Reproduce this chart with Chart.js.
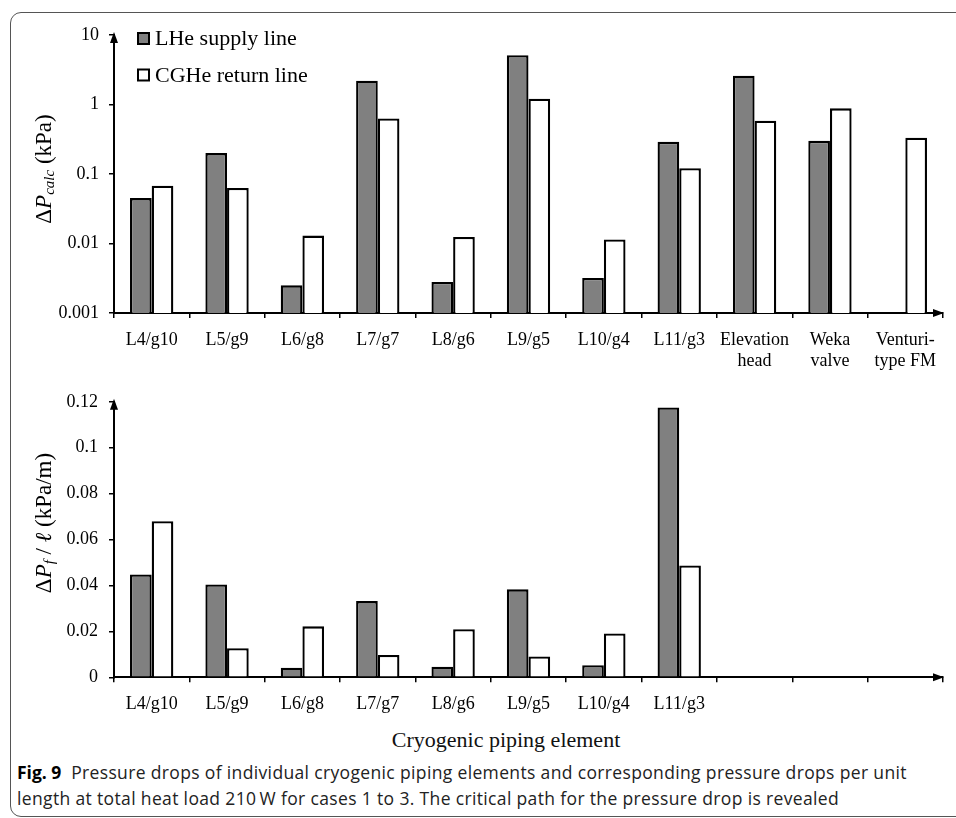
<!DOCTYPE html>
<html>
<head>
<meta charset="utf-8">
<script src="https://cdn.jsdelivr.net/npm/chart.js@4.4.1/dist/chart.umd.min.js"></script>
<style>
  html, body { margin: 0; padding: 0; background: #fff; }
  body { width: 956px; height: 818px; position: relative; overflow: hidden; }
  #frame {
    position: absolute; left: 10px; top: 12px; width: 1000px; height: 805px;
    border: 1.5px solid #555; border-radius: 11px; box-sizing: border-box;
  }
  canvas { position: absolute; left: 0; }
  #calcChart { top: 0; }
  #frictionChart { top: 380px; }
  #xTitle {
    position: absolute; left: 306px; width: 400px; top: 729px; text-align: center;
    font: 22px/22px "Liberation Serif", "Times New Roman", serif; color: #111;
  }
  #caption {
    position: absolute; left: 17px; top: 759px; width: 935px; white-space: nowrap;
    font: 17.5px/26px "Open Sans", Lato, sans-serif; letter-spacing: 0.35px; color: #222;
  }
  #caption b { color: #000; letter-spacing: 0; }
</style>
</head>
<body>
<div id="frame"></div>
<canvas id="calcChart" width="956" height="380"></canvas>
<canvas id="frictionChart" width="956" height="340"></canvas>
<div id="xTitle">Cryogenic piping element</div>
<div id="caption"><b>Fig. 9</b>&nbsp; Pressure drops of individual cryogenic piping elements and corresponding pressure drops per unit<br>length at total heat load 210&#8201;W for cases 1 to 3. The critical path for the pressure drop is revealed</div>

<script>
// Piping elements (upper panel) and their per-length counterparts (lower panel)
const categories = ['L4/g10', 'L5/g9', 'L6/g8', 'L7/g7', 'L8/g6', 'L9/g5', 'L10/g4', 'L11/g3',
  ['Elevation', 'head'], ['Weka', 'valve'], ['Venturi-', 'type FM']];
const frictionCategories = ['L4/g10', 'L5/g9', 'L6/g8', 'L7/g7', 'L8/g6', 'L9/g5', 'L10/g4', 'L11/g3', '', '', ''];

// Calculated pressure drop, kPa
const calcSupply = [0.045, 0.20, 0.0025, 2.2, 0.0028, 5.1, 0.0032, 0.29, 2.6, 0.30, null];
const calcReturn = [0.068, 0.063, 0.013, 0.63, 0.0124, 1.21, 0.0114, 0.121, 0.585, 0.88, 0.333];

// Frictional pressure drop per unit length, kPa/m
const frictionSupply = [0.0448, 0.0404, 0.0042, 0.0332, 0.0046, 0.0383, 0.0053, 0.1175, null, null, null];
const frictionReturn = [0.068, 0.0127, 0.0222, 0.0097, 0.0209, 0.0091, 0.0191, 0.0487, null, null, null];

// Axis ticks
const calcTicks = [0.001, 0.01, 0.1, 1, 10];
const frictionTicks = [0, 0.02, 0.04, 0.06, 0.08, 0.1, 0.12];

const seriesNames = ['LHe supply line', 'CGHe return line'];

const SERIF_NAME = 'Liberation Serif';
const SERIF = '"Liberation Serif", "Times New Roman", serif';
Chart.defaults.font.family = SERIF;
Chart.defaults.color = '#000';

const barStyle = (i) => ({
  backgroundColor: i === 0 ? '#808080' : '#ffffff',
  borderColor: '#000',
  borderWidth: 2.3,
  barPercentage: 1.0,
  categoryPercentage: 0.575
});

// Arrowheads at the ends of both axes
const axisArrows = {
  id: 'axisArrows',
  afterDraw(chart) {
    const ctx = chart.ctx, a = chart.chartArea;
    ctx.save();
    ctx.fillStyle = '#000';
    ctx.beginPath();
    ctx.moveTo(a.left, a.top - 3);
    ctx.lineTo(a.left - 4, a.top + 8);
    ctx.lineTo(a.left + 4, a.top + 8);
    ctx.closePath();
    ctx.fill();
    ctx.beginPath();
    ctx.moveTo(a.right + 1, a.bottom);
    ctx.lineTo(a.right - 10, a.bottom - 4);
    ctx.lineTo(a.right - 10, a.bottom + 4);
    ctx.closePath();
    ctx.fill();
    ctx.restore();
  }
};

// Square-swatch legend stacked in the upper-left of the plot
const boxLegend = {
  id: 'boxLegend',
  afterDraw(chart) {
    const ctx = chart.ctx, a = chart.chartArea;
    ctx.save();
    chart.data.datasets.forEach((ds, i) => {
      const base = a.top + 10 + i * 36.5;
      ctx.fillStyle = ds.backgroundColor;
      ctx.fillRect(a.left + 24, base - 12, 11, 11);
      ctx.strokeStyle = '#000';
      ctx.lineWidth = 2;
      ctx.strokeRect(a.left + 24, base - 12, 11, 11);
      ctx.fillStyle = '#000';
      ctx.font = 'normal 400 22px ' + SERIF;
      ctx.textBaseline = 'alphabetic';
      ctx.textAlign = 'left';
      ctx.fillText(ds.label, a.left + 41, base);
    });
    ctx.restore();
  }
};

// Rotated axis title with italic symbols and subscripts
function richTitle(cx, cy, parts) {
  return {
    id: 'richTitle',
    afterDraw(chart) {
      const ctx = chart.ctx;
      const fontOf = p => (p.italic ? 'italic ' : 'normal ') + '400 ' + p.size + 'px ' + SERIF;
      ctx.save();
      ctx.translate(cx, cy);
      ctx.rotate(-Math.PI / 2);
      ctx.fillStyle = '#000';
      ctx.textAlign = 'left';
      ctx.textBaseline = 'middle';
      const widths = parts.map(p => { ctx.font = fontOf(p); return ctx.measureText(p.text).width; });
      let x = -widths.reduce((s, w) => s + w, 0) / 2;
      parts.forEach((p, i) => {
        ctx.font = fontOf(p);
        ctx.fillText(p.text, x, p.dy || 0);
        x += widths[i];
      });
      ctx.restore();
    }
  };
}

function xScale(height, labelPad) {
  return {
    type: 'category',
    offset: true,
    grid: { offset: true, drawOnChartArea: false, drawTicks: true, tickLength: 5, color: '#000', lineWidth: 1.5 },
    border: { color: '#000', width: 2 },
    ticks: { font: { size: 18, lineHeight: 1.15 }, padding: labelPad, maxRotation: 0, autoSkip: false, color: '#000' },
    afterFit: s => { s.height = height; }
  };
}

function yGrid() {
  return { drawOnChartArea: false, drawTicks: true, tickLength: 5, color: '#000', lineWidth: 1.5 };
}

function drawCharts() {
  // Upper panel: calculated pressure drop on a log axis
  new Chart(document.getElementById('calcChart'), {
    type: 'bar',
    data: {
      labels: categories,
      datasets: [
        Object.assign({ label: seriesNames[0], data: calcSupply }, barStyle(0)),
        Object.assign({ label: seriesNames[1], data: calcReturn }, barStyle(1))
      ]
    },
    options: {
      responsive: false,
      animation: false,
      layout: { padding: { top: 35, right: 13, left: 0, bottom: 0 } },
      plugins: { legend: { display: false }, tooltip: { enabled: false } },
      scales: {
        x: xScale(67, 12),
        y: {
          type: 'logarithmic',
          min: calcTicks[0],
          max: calcTicks[calcTicks.length - 1],
          grid: yGrid(),
          border: { color: '#000', width: 2 },
          ticks: { font: { size: 18 }, padding: 10, color: '#000', callback: v => String(v) },
          afterBuildTicks: s => { s.ticks = calcTicks.map(v => ({ value: v })); },
          afterFit: s => { s.width = 114; }
        }
      }
    },
    plugins: [axisArrows, boxLegend, richTitle(45, 169, [
      { text: '\u0394', size: 23 },
      { text: 'P', size: 23, italic: true },
      { text: 'calc', size: 15, italic: true, dy: 5 },
      { text: ' (kPa)', size: 23 }
    ])]
  });

  // Lower panel: frictional pressure drop per unit length
  new Chart(document.getElementById('frictionChart'), {
    type: 'bar',
    data: {
      labels: frictionCategories,
      datasets: [
        Object.assign({ label: seriesNames[0], data: frictionSupply }, barStyle(0)),
        Object.assign({ label: seriesNames[1], data: frictionReturn }, barStyle(1))
      ]
    },
    options: {
      responsive: false,
      animation: false,
      layout: { padding: { top: 21.7, right: 13, left: 0, bottom: 0 } },
      plugins: { legend: { display: false }, tooltip: { enabled: false } },
      scales: {
        x: xScale(42.7, 12),
        y: {
          type: 'linear',
          min: frictionTicks[0],
          max: frictionTicks[frictionTicks.length - 1],
          grid: yGrid(),
          border: { color: '#000', width: 2 },
          ticks: { font: { size: 18 }, padding: 11, color: '#000', callback: v => String(Number(v.toFixed(2))) },
          afterBuildTicks: s => { s.ticks = frictionTicks.map(v => ({ value: v })); },
          afterFit: s => { s.width = 114; }
        }
      }
    },
    plugins: [axisArrows, richTitle(45, 143, [
      { text: '\u0394', size: 23 },
      { text: 'P', size: 23, italic: true },
      { text: 'f', size: 15, italic: true, dy: 5 },
      { text: ' / ', size: 23 },
      { text: '\u2113', size: 23, italic: true },
      { text: ' (kPa/m)', size: 23 }
    ])]
  });
}

Promise.all([
  document.fonts.load('22px "' + SERIF_NAME + '"'),
  document.fonts.load('italic 22px "' + SERIF_NAME + '"')
]).catch(() => {}).then(drawCharts);
</script>
</body>
</html>
